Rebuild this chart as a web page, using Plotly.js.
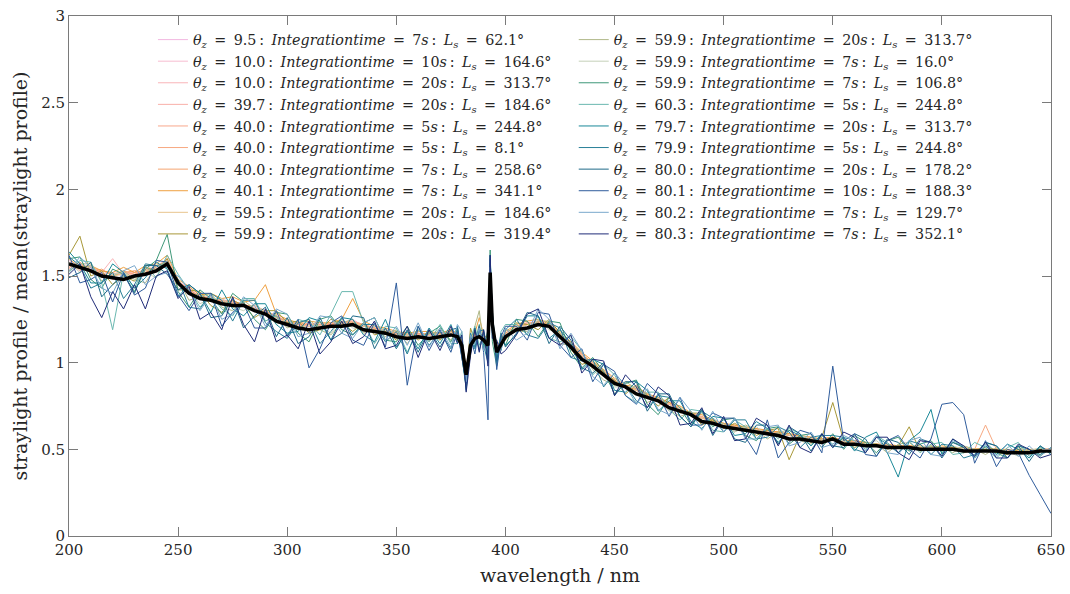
<!DOCTYPE html>
<html>
<head>
<meta charset="utf-8">
<script src="https://cdn.plot.ly/plotly-3.0.1.min.js"></script>
<style>html,body{margin:0;padding:0;background:#fff;}#chart{width:1070px;height:594px;}</style>
</head>
<body>
<div id="chart"></div>
<script>
// wavelength grid (nm)
const wavelength = [200,205,210,215,220,225,230,235,240,245,250,255,260,265,270,275,280,285,290,295,300,305,310,315,320,325,330,335,340,345,350,355,360,365,370,375,378,380,382,384,386,388,390,392,393,394,396,398,400,405,410,415,420,425,430,435,440,445,450,455,460,465,470,475,480,485,490,495,500,505,510,515,520,525,530,535,540,545,550,555,560,565,570,575,580,585,590,595,600,605,610,615,620,625,630,635,640,645,650];

// legend categories
const thetaZ = ["9.5","10.0","10.0","39.7","40.0","40.0","40.0","40.1","59.5","59.9","59.9","59.9","59.9","60.3","79.7","79.9","80.0","80.1","80.2","80.3"];
const integrationTime = ["7","10","20","20","5","5","7","7","20","20","20","7","7","5","20","5","20","10","7","7"];
const solarLongitude = ["62.1","164.6","313.7","184.6","244.8","8.1","258.6","341.1","184.6","319.4","313.7","16.0","106.8","244.8","313.7","244.8","178.2","188.3","129.7","352.1"];
const seriesColors = ["#f2b8e0","#f7bcd0","#f9b4b8","#f9b0a8","#f8a88c","#f7a982","#f5a470","#efa040","#e8c48e","#a89838","#b0b888","#c4d0b8","#3e9878","#6ab8b0","#1a8898","#2a8098","#1f6a88","#2f5c9c","#7aa8cc","#202c78"];

// mean straylight profile (thick black)
const meanProfile = [1.57,1.55,1.53,1.50,1.49,1.48,1.50,1.51,1.53,1.57,
1.46,1.40,1.37,1.36,1.34,1.33,1.33,1.30,1.28,1.24,
1.22,1.20,1.19,1.20,1.21,1.21,1.22,1.19,1.18,1.17,
1.15,1.14,1.15,1.14,1.15,1.16,
1.15,1.10,0.93,1.10,1.14,1.15,1.13,1.10,1.52,1.22,1.06,1.11,
1.15,1.19,1.20,1.22,1.21,1.15,1.09,1.02,0.98,0.93,
0.88,0.86,0.82,0.80,0.78,0.74,0.72,0.70,0.66,0.65,
0.63,0.62,0.61,0.60,0.59,0.58,0.56,0.56,0.55,0.54,
0.56,0.53,0.53,0.52,0.52,0.51,0.51,0.51,0.50,0.50,
0.50,0.50,0.49,0.49,0.49,0.49,0.48,0.48,0.48,0.49,0.49];

const s01 = [1.55,1.58,1.54,1.53,1.51,1.52,1.49,1.54,1.55,1.60,
1.47,1.43,1.38,1.37,1.36,1.35,1.34,1.31,1.30,1.27,
1.24,1.22,1.22,1.21,1.23,1.22,1.25,1.21,1.19,1.18,
1.17,1.15,1.16,1.17,1.16,1.17,
1.16,1.12,0.95,1.12,1.16,1.17,1.14,1.12,1.55,1.24,1.08,1.13,
1.17,1.21,1.23,1.24,1.22,1.17,1.11,1.05,0.99,0.94,
0.90,0.86,0.84,0.81,0.78,0.76,0.73,0.70,0.68,0.66,
0.64,0.63,0.62,0.61,0.60,0.59,0.58,0.57,0.56,0.55,
0.56,0.54,0.54,0.53,0.53,0.52,0.52,0.52,0.51,0.51,
0.51,0.51,0.50,0.50,0.50,0.50,0.49,0.49,0.49,0.50,0.50];
const s02 = [1.59,1.54,1.55,1.51,1.52,1.50,1.53,1.52,1.56,1.58,
1.46,1.42,1.39,1.36,1.37,1.34,1.33,1.32,1.29,1.26,
1.23,1.22,1.21,1.23,1.21,1.23,1.24,1.22,1.20,1.18,
1.16,1.16,1.17,1.16,1.17,1.18,
1.17,1.11,0.94,1.11,1.15,1.16,1.15,1.11,1.54,1.23,1.07,1.12,
1.16,1.20,1.22,1.23,1.21,1.16,1.10,1.04,0.99,0.94,
0.89,0.86,0.84,0.81,0.78,0.76,0.73,0.70,0.68,0.66,
0.64,0.63,0.62,0.61,0.60,0.59,0.58,0.57,0.56,0.55,
0.57,0.54,0.54,0.53,0.52,0.52,0.51,0.51,0.51,0.50,
0.51,0.50,0.50,0.50,0.49,0.50,0.49,0.49,0.49,0.49,0.50];
const s03 = [1.56,1.57,1.53,1.52,1.60,1.51,1.52,1.53,1.54,1.59,
1.46,1.41,1.38,1.37,1.35,1.36,1.33,1.31,1.30,1.26,
1.23,1.21,1.22,1.21,1.22,1.22,1.23,1.21,1.19,1.19,
1.16,1.15,1.16,1.16,1.17,1.17,
1.16,1.12,0.96,1.11,1.15,1.16,1.14,1.12,1.53,1.24,1.08,1.12,
1.16,1.20,1.23,1.23,1.22,1.16,1.11,1.04,1.00,0.95,
0.89,0.87,0.84,0.82,0.78,0.77,0.73,0.71,0.68,0.66,
0.65,0.63,0.62,0.61,0.61,0.59,0.58,0.57,0.56,0.55,
0.56,0.54,0.54,0.53,0.52,0.52,0.52,0.51,0.51,0.51,
0.51,0.50,0.50,0.49,0.50,0.49,0.49,0.49,0.48,0.49,0.50];
const s04 = [1.58,1.53,1.56,1.51,1.50,1.53,1.50,1.55,1.54,1.58,
1.47,1.42,1.38,1.38,1.35,1.36,1.33,1.32,1.29,1.27,
1.24,1.21,1.23,1.22,1.21,1.23,1.24,1.21,1.20,1.18,
1.17,1.15,1.17,1.16,1.16,1.18,
1.16,1.12,0.95,1.12,1.15,1.17,1.14,1.12,1.55,1.24,1.08,1.13,
1.17,1.21,1.22,1.24,1.21,1.17,1.10,1.05,0.99,0.94,
0.90,0.86,0.85,0.81,0.79,0.76,0.74,0.70,0.69,0.66,
0.64,0.64,0.62,0.62,0.60,0.60,0.58,0.58,0.56,0.56,
0.57,0.54,0.55,0.53,0.53,0.52,0.52,0.51,0.51,0.51,
0.51,0.51,0.50,0.50,0.49,0.50,0.49,0.49,0.49,0.50,0.50];
const s05 = [1.54,1.57,1.53,1.52,1.48,1.50,1.52,1.52,1.55,1.60,
1.46,1.41,1.39,1.36,1.36,1.34,1.34,1.31,1.29,1.27,
1.23,1.22,1.21,1.22,1.23,1.22,1.24,1.22,1.19,1.19,
1.16,1.16,1.16,1.17,1.16,1.17,
1.17,1.11,0.95,1.11,1.16,1.16,1.15,1.11,1.56,1.23,1.07,1.12,
1.16,1.20,1.22,1.24,1.22,1.16,1.11,1.04,1.00,0.94,
0.89,0.87,0.84,0.81,0.79,0.76,0.73,0.71,0.68,0.67,
0.64,0.63,0.63,0.61,0.61,0.59,0.59,0.57,0.57,0.55,
0.56,0.55,0.54,0.53,0.53,0.52,0.52,0.52,0.51,0.50,
0.51,0.51,0.50,0.50,0.50,0.49,0.49,0.50,0.49,0.49,0.50];
const s06 = [1.57,1.56,1.55,1.53,1.51,1.53,1.51,1.54,1.53,1.59,
1.47,1.42,1.38,1.37,1.36,1.35,1.33,1.33,1.30,1.26,
1.24,1.22,1.22,1.22,1.22,1.23,1.23,1.22,1.20,1.19,
1.17,1.16,1.16,1.17,1.17,1.17,
1.17,1.12,0.96,1.12,1.15,1.17,1.15,1.12,1.54,1.23,1.08,1.13,
1.17,1.21,1.23,1.23,1.22,1.17,1.11,1.05,1.00,0.95,
0.90,0.86,0.85,0.81,0.79,0.77,0.74,0.70,0.69,0.66,
0.65,0.63,0.63,0.61,0.61,0.60,0.58,0.58,0.56,0.56,
0.57,0.55,0.54,0.54,0.53,0.52,0.52,0.52,0.51,0.51,
0.51,0.51,0.50,0.50,0.64,0.50,0.49,0.49,0.49,0.50,0.50];
const s07 = [1.55,1.58,1.52,1.54,1.50,1.52,1.53,1.52,1.56,1.58,
1.46,1.43,1.37,1.38,1.35,1.35,1.34,1.31,1.30,1.27,
1.23,1.23,1.22,1.21,1.22,1.24,1.23,1.21,1.20,1.18,
1.17,1.16,1.17,1.16,1.17,1.18,
1.16,1.13,0.95,1.12,1.16,1.16,1.14,1.13,1.55,1.24,1.08,1.12,
1.17,1.21,1.22,1.24,1.22,1.17,1.10,1.05,0.99,0.95,
0.89,0.87,0.84,0.82,0.78,0.77,0.73,0.71,0.68,0.67,
0.64,0.64,0.62,0.62,0.60,0.60,0.58,0.58,0.56,0.56,
0.57,0.54,0.55,0.53,0.53,0.52,0.52,0.51,0.52,0.51,
0.51,0.50,0.51,0.50,0.50,0.50,0.49,0.49,0.49,0.50,0.50];
const s08 = [1.60,1.55,1.56,1.53,1.52,1.55,1.52,1.56,1.57,1.62,
1.48,1.44,1.39,1.40,1.37,1.38,1.35,1.36,1.45,1.28,
1.25,1.23,1.24,1.23,1.23,1.25,1.37,1.24,1.21,1.20,
1.18,1.17,1.18,1.18,1.17,1.19,
1.17,1.13,0.97,1.13,1.17,1.26,1.16,1.14,1.57,1.25,1.09,1.14,
1.18,1.22,1.24,1.25,1.23,1.18,1.12,1.06,1.01,0.96,
0.91,0.87,0.86,0.82,0.80,0.77,0.75,0.71,0.70,0.67,
0.65,0.64,0.63,0.62,0.61,0.60,0.59,0.58,0.57,0.56,
0.57,0.55,0.55,0.54,0.53,0.53,0.52,0.52,0.52,0.51,
0.52,0.51,0.51,0.50,0.51,0.50,0.50,0.49,0.50,0.50,0.50];
const s09 = [1.56,1.54,1.53,1.50,1.50,1.51,1.49,1.53,1.54,1.58,
1.45,1.41,1.38,1.36,1.35,1.34,1.33,1.31,1.29,1.26,
1.23,1.21,1.21,1.21,1.21,1.22,1.23,1.21,1.19,1.18,
1.16,1.15,1.16,1.16,1.16,1.17,
1.16,1.11,0.94,1.11,1.15,1.16,1.14,1.11,1.53,1.23,1.07,1.12,
1.16,1.20,1.22,1.23,1.21,1.16,1.10,1.04,0.99,0.94,
0.89,0.86,0.84,0.81,0.78,0.76,0.73,0.70,0.68,0.66,
0.64,0.63,0.62,0.61,0.60,0.59,0.58,0.57,0.56,0.55,
0.56,0.54,0.54,0.53,0.53,0.52,0.51,0.51,0.51,0.50,
0.51,0.50,0.50,0.50,0.49,0.50,0.49,0.49,0.49,0.49,0.50];
const s10 = [1.62,1.73,1.50,1.53,1.45,1.50,1.47,1.55,1.53,1.60,
1.42,1.42,1.41,1.33,1.29,1.36,1.33,1.26,1.30,1.30,
1.23,1.24,1.17,1.19,1.25,1.23,1.18,1.23,1.16,1.18,
1.13,1.18,1.13,1.18,1.13,1.19,
1.13,1.15,0.90,1.20,1.12,1.19,1.11,1.14,1.58,1.20,1.04,1.15,
1.13,1.23,1.22,1.19,1.25,1.17,1.08,0.99,1.01,0.94,
0.90,0.82,0.87,0.81,0.75,0.80,0.71,0.72,0.64,0.67,
0.62,0.65,0.62,0.58,0.61,0.62,0.44,0.58,0.54,0.57,
0.77,0.55,0.51,0.54,0.53,0.50,0.52,0.63,0.49,0.52,
0.49,0.52,0.48,0.50,0.50,0.48,0.47,0.50,0.48,0.50,0.49];
const s11 = [1.53,1.57,1.57,1.47,1.50,1.53,1.48,1.46,1.56,1.58,
1.48,1.36,1.38,1.40,1.32,1.30,1.36,1.31,1.24,1.27,
1.20,1.23,1.25,1.19,1.16,1.23,1.25,1.17,1.19,1.15,
1.19,1.11,1.19,1.12,1.20,1.13,
1.19,1.06,0.88,1.08,1.21,1.30,1.10,1.08,1.50,1.25,1.02,1.10,
1.19,1.18,1.18,1.24,1.24,1.11,1.10,1.06,0.96,0.90,
0.87,0.89,0.85,0.77,0.80,0.73,0.69,0.71,0.71,0.64,
0.65,0.60,0.64,0.61,0.56,0.60,0.61,0.55,0.53,0.56,
0.55,0.56,0.51,0.54,0.53,0.48,0.53,0.54,0.49,0.52,
0.51,0.48,0.52,0.50,0.47,0.51,0.47,0.51,0.49,0.47,0.50];
const s12 = [1.58,1.52,1.56,1.49,1.51,1.52,1.48,1.52,1.49,1.59,
1.43,1.41,1.34,1.37,1.37,1.32,1.30,1.34,1.29,1.22,
1.25,1.19,1.22,1.21,1.17,1.25,1.20,1.19,1.21,1.19,
1.14,1.16,1.14,1.17,1.14,1.17,
1.14,1.09,0.92,1.13,1.13,1.17,1.12,1.12,1.52,1.21,1.05,1.13,
1.16,1.21,1.18,1.25,1.19,1.17,1.10,1.01,1.01,0.92,
0.86,0.86,0.86,0.79,0.79,0.72,0.74,0.70,0.65,0.68,
0.64,0.60,0.63,0.63,0.58,0.59,0.55,0.58,0.56,0.53,
0.56,0.55,0.52,0.53,0.55,0.50,0.52,0.49,0.52,0.51,
0.49,0.52,0.50,0.48,0.51,0.49,0.49,0.46,0.49,0.51,0.48];
const s13 = [1.60,1.61,1.48,1.43,1.54,1.51,1.41,1.54,1.59,1.74,
1.41,1.32,1.42,1.37,1.28,1.40,1.35,1.25,1.19,1.29,
1.28,1.17,1.12,1.25,1.27,1.19,1.16,1.23,1.26,1.13,
1.12,1.21,1.10,1.17,1.21,1.12,
1.19,1.04,0.85,1.15,1.11,1.22,1.08,1.19,1.65,1.12,0.98,1.16,
1.10,1.25,1.24,1.15,1.24,1.23,1.06,0.97,1.03,0.95,
0.82,0.88,0.90,0.76,0.70,0.80,0.74,0.64,0.73,0.63,
0.67,0.68,0.58,0.55,0.62,0.63,0.53,0.58,0.59,0.51,
0.59,0.50,0.58,0.54,0.48,0.55,0.57,0.49,0.53,0.55,
0.48,0.54,0.52,0.46,0.54,0.48,0.45,0.52,0.50,0.46,0.51];
const s14 = [1.52,1.59,1.58,1.46,1.19,1.52,1.43,1.56,1.49,1.62,
1.51,1.42,1.32,1.39,1.31,1.27,1.37,1.37,1.24,1.27,
1.16,1.25,1.23,1.16,1.28,1.41,1.41,1.23,1.11,1.21,
1.20,1.06,1.19,1.12,1.22,1.11,
1.11,1.18,0.87,1.14,1.21,1.10,1.16,1.04,1.60,1.28,1.02,1.18,
1.22,1.22,1.16,1.27,1.14,1.12,1.15,1.07,0.93,0.99,
0.93,0.81,0.77,0.83,0.83,0.73,0.67,0.73,0.72,0.61,
0.60,0.67,0.63,0.56,0.62,0.56,0.62,0.59,0.52,0.58,
0.53,0.57,0.55,0.50,0.58,0.54,0.48,0.55,0.48,0.53,
0.54,0.47,0.48,0.54,0.51,0.45,0.51,0.54,0.46,0.51,0.48];
const s15 = [1.64,1.57,1.46,1.46,1.57,1.52,1.43,1.49,1.58,1.54,
1.38,1.45,1.40,1.29,1.42,1.31,1.27,1.34,1.34,1.22,
1.17,1.18,1.26,1.24,1.13,1.26,1.25,1.16,1.12,1.25,
1.09,1.18,1.08,1.20,1.11,1.22,
1.12,1.15,0.84,1.13,1.08,1.19,1.10,1.00,1.62,1.26,1.00,1.14,
1.10,1.16,1.27,1.27,1.14,1.19,1.11,0.96,1.02,0.99,
0.84,0.83,0.89,0.84,0.72,0.78,0.78,0.66,0.62,0.69,
0.68,0.58,0.59,0.66,0.62,0.54,0.61,0.58,0.52,0.59,
0.51,0.57,0.49,0.57,0.60,0.48,0.34,0.55,0.60,0.73,
0.47,0.56,0.51,0.45,0.52,0.47,0.53,0.50,0.45,0.52,0.47];
const s16 = [1.61,1.56,1.43,1.46,1.52,1.37,1.45,1.57,1.56,1.55,
1.48,1.32,1.31,1.40,1.36,1.24,1.36,1.36,1.23,1.18,
1.14,1.23,1.25,1.11,1.18,1.26,1.16,1.22,1.22,1.12,
1.18,1.05,1.21,1.10,1.18,1.08,
1.21,1.06,0.86,1.17,1.09,1.18,1.19,1.06,1.58,1.17,1.10,1.07,
1.19,1.25,1.16,1.14,1.23,1.20,1.03,1.01,1.02,0.86,
0.94,0.87,0.78,0.74,0.81,0.80,0.69,0.63,0.72,0.68,
0.60,0.67,0.67,0.56,0.57,0.63,0.60,0.51,0.57,0.58,
0.58,0.57,0.50,0.48,0.57,0.53,0.48,0.55,0.53,0.47,
0.53,0.52,0.45,0.47,0.54,0.52,0.45,0.52,0.50,0.47,0.51];
const s17 = [1.49,1.52,1.58,1.38,1.45,1.51,1.40,1.56,1.56,1.51,
1.42,1.45,1.40,1.26,1.27,1.37,1.20,1.27,1.32,1.15,
1.26,1.11,1.15,1.26,1.13,1.17,1.27,1.26,1.08,1.20,
1.08,1.19,1.06,1.19,1.09,1.19,
1.20,1.03,0.87,1.06,1.20,1.07,1.18,1.02,1.57,1.30,1.01,1.17,
1.09,1.17,1.29,1.27,1.11,1.21,1.13,0.97,0.94,1.00,
0.81,0.89,0.89,0.72,0.82,0.82,0.69,0.63,0.73,0.58,
0.68,0.56,0.54,0.64,0.64,0.53,0.63,0.59,0.49,0.59,
0.52,0.51,0.59,0.56,0.46,0.56,0.54,0.47,0.56,0.54,
0.45,0.54,0.51,0.46,0.54,0.52,0.45,0.52,0.43,0.52,0.48];
const s18 = [1.62,1.46,1.48,1.52,1.35,1.52,1.39,1.43,1.59,1.58,
1.39,1.30,1.40,1.40,1.21,1.29,1.34,1.20,1.20,1.30,
1.15,1.25,0.97,1.08,1.23,1.27,1.13,1.10,1.23,1.09,
1.46,0.87,1.21,1.07,1.19,1.06,
1.18,1.02,0.88,1.15,1.05,1.21,1.06,0.67,1.60,1.28,0.96,1.15,
1.21,1.21,1.13,1.29,1.28,1.10,1.03,1.08,0.89,0.99,
0.95,0.81,0.76,0.88,0.82,0.69,0.80,0.64,0.64,0.71,
0.68,0.68,0.57,0.47,0.67,0.45,0.54,0.61,0.59,0.48,
0.98,0.55,0.59,0.47,0.46,0.55,0.58,0.50,0.45,0.56,
0.76,0.77,0.70,0.42,0.55,0.40,0.50,0.48,0.35,0.24,0.13];
const s19 = [1.53,1.61,1.55,1.43,1.40,1.53,1.56,1.45,1.50,1.52,
1.50,1.42,1.30,1.39,1.25,1.28,1.38,1.33,1.21,1.31,
1.28,1.15,1.17,1.27,1.26,1.17,1.14,1.23,1.26,1.13,
1.21,1.10,1.23,1.09,1.20,1.09,
1.22,1.18,0.89,1.16,1.11,1.20,1.07,1.14,1.55,1.14,1.12,1.08,
1.20,1.13,1.17,1.31,1.25,1.08,1.17,1.07,0.92,0.87,
0.94,0.87,0.76,0.85,0.73,0.70,0.80,0.72,0.61,0.72,
0.60,0.68,0.56,0.56,0.63,0.64,0.52,0.54,0.60,0.51,
0.53,0.58,0.55,0.49,0.58,0.48,0.47,0.55,0.57,0.47,
0.46,0.55,0.52,0.46,0.53,0.46,0.53,0.46,0.52,0.46,0.51];
const s20 = [1.51,1.57,1.38,1.26,1.41,1.31,1.45,1.31,1.50,1.53,
1.37,1.44,1.25,1.29,1.19,1.38,1.22,1.12,1.31,1.12,
1.16,1.08,1.24,1.05,1.12,1.24,1.11,1.15,1.24,1.08,
1.10,1.21,1.03,1.19,1.07,1.21,
1.11,1.16,0.83,1.04,1.19,1.06,1.19,0.98,1.62,1.14,1.13,1.05,
1.07,1.16,1.28,1.31,1.14,1.10,1.16,0.94,1.02,1.01,
0.81,0.93,0.86,0.74,0.86,0.81,0.64,0.65,0.74,0.59,
0.69,0.55,0.56,0.68,0.64,0.52,0.64,0.51,0.48,0.59,
0.51,0.60,0.57,0.48,0.57,0.57,0.48,0.44,0.55,0.54,
0.46,0.56,0.52,0.46,0.54,0.45,0.45,0.53,0.50,0.45,0.47];

const seriesValues = [s01,s02,s03,s04,s05,s06,s07,s08,s09,s10,s11,s12,s13,s14,s15,s16,s17,s18,s19,s20];

const eqs = '\u00a0\u2009';   // spacing around "="
const cl = '\u2009';          // spacing before ":"
const cr = '\u00a0\u2009';    // spacing after ":"
const traces = seriesValues.map((vals, i) => ({
  type: 'scatter', mode: 'lines',
  x: wavelength, y: vals,
  name: '<i>θ</i><sub><i>z</i></sub>' + eqs + '=' + eqs + thetaZ[i] + cl + ':' + cr + '<i>Integrationtime</i>' + eqs + '=' + eqs + integrationTime[i] + '<i>s</i>' + cl + ':' + cr + '<i>L</i><sub><i>s</i></sub>' + eqs + '=' + eqs + solarLongitude[i] + '°',
  line: {color: seriesColors[i], width: 1},
  legend: i < 10 ? 'legend' : 'legend2',
  hoverinfo: 'skip'
}));
traces.push({
  type: 'scatter', mode: 'lines', x: wavelength, y: meanProfile,
  line: {color: '#000000', width: 3.5}, showlegend: false, hoverinfo: 'skip'
});

const serif = 'DejaVu Serif, serif';
const axisCommon = {
  showline: true, mirror: 'ticks', linecolor: '#7a7a7a', linewidth: 1,
  ticks: 'inside', ticklen: 9, tickcolor: '#7a7a7a', tickwidth: 1,
  showgrid: false, zeroline: false,
  tickfont: {family: serif, size: 15, color: '#262626'}
};
const legendCommon = {
  bgcolor: 'rgba(0,0,0,0)', borderwidth: 0,
  font: {family: serif, size: 14.3, color: '#262626'},
  yanchor: 'top', xanchor: 'left', tracegroupgap: 0
};

const layout = {
  width: 1070, height: 594,
  margin: {l: 69, r: 19, t: 16, b: 58},
  paper_bgcolor: '#ffffff', plot_bgcolor: '#ffffff',
  showlegend: true,
  xaxis: Object.assign({}, axisCommon, {
    range: [200, 650], tickvals: [200,250,300,350,400,450,500,550,600,650],
    title: {text: 'wavelength / nm', font: {family: serif, size: 19, color: '#262626'}, standoff: 10}
  }),
  yaxis: Object.assign({}, axisCommon, {
    range: [0, 3], tickvals: [0,0.5,1,1.5,2,2.5,3], ticktext: ['0','0.5','1','1.5','2','2.5','3'],
    title: {text: 'straylight profile / mean(straylight profile)', font: {family: serif, size: 19, color: '#262626'}, standoff: 8}
  }),
  legend: Object.assign({}, legendCommon, {x: 0.0855, y: 0.985}),
  legend2: Object.assign({}, legendCommon, {x: 0.514, y: 0.985})
};

Plotly.newPlot('chart', traces, layout, {staticPlot: true, displayModeBar: false});
</script>
</body>
</html>
